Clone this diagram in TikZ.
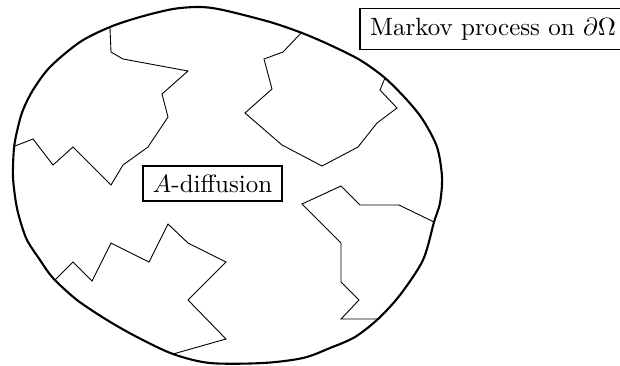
\documentclass[tikz,border=0pt]{standalone}
\usepackage{graphicx}
\tikzset{
  rim/.style={line width=2.1pt, line join=round},
  walk/.style={line width=0.9pt, line join=miter},
  labelbox/.style={draw, line width=1.1pt, inner sep=0pt, font=\normalsize},
  freelabel/.style={inner sep=0pt, font=\normalsize}
}
\begin{document}
\begin{tikzpicture}[x=1pt,y=-1pt]
\useasboundingbox (0,0) rectangle (620,365);
% boundary
\draw[rim] plot[smooth cycle, tension=0.5] coordinates {
(200,7) (223,10) (270,22) (302,33) (330,45) (360,60) (385,78) (407,100)
(423,120) (437,147) (442,177) (440,203) (434,222) (423,260) (400,295)
(378,319) (355,337) (330,348) (303,358) (263,363) (210,363) (173,354)
(137,337) (107,320) (77,300) (53,278) (40,260) (27,240) (20,220) (16,203)
(13,177) (14,148) (18,127) (23,110) (33,90) (50,67) (80,42) (110,27) (140,17) (173,9)};
% walks
\draw[walk] (110,28) -- (111,52) -- (123,59) -- (188,71) -- (162,94) -- (168,117)
  -- (148,147) -- (123,165) -- (111,185) -- (73,147) -- (53,165) -- (33,139) -- (15,146);
\draw[walk] (302,32) -- (283,52) -- (264,59) -- (272,89) -- (245,113) -- (282,145)
  -- (322,166) -- (358,147) -- (377,123) -- (397,108) -- (380,90) -- (385,78);
\draw[walk] (55,280) -- (73,262) -- (92,281) -- (111,243) -- (149,262) -- (168,224)
  -- (188,243) -- (226,262) -- (188,300) -- (226,339) -- (173,354);
\draw[walk] (434,222) -- (399,205) -- (360,205) -- (341,186) -- (302,204) -- (341,243)
  -- (341,282) -- (359,300) -- (341,319) -- (378,319);
% labels
\node[labelbox, minimum width=139pt, minimum height=35pt] (diff) at (212.5,183.5)
  {\scalebox{2.5}{$A$-diffusion}};
\node[freelabel, anchor=west, minimum height=40pt, inner xsep=10pt] (markov) at (360,29)
  {\scalebox{2.5}{Markov process on $\partial\Omega$}};
\draw[line width=1.1pt] (markov.south west) rectangle ([xshift=20pt]markov.north east);
\end{tikzpicture}
\end{document}
